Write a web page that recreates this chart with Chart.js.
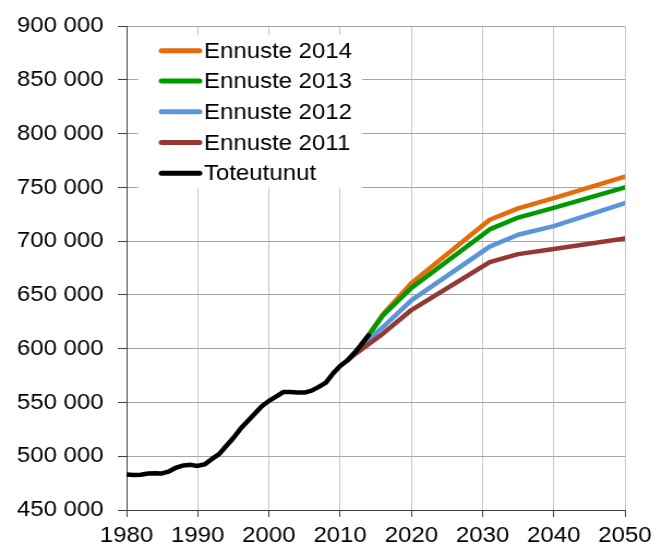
<!DOCTYPE html>
<html>
<head>
<meta charset="utf-8">
<script src="https://cdn.jsdelivr.net/npm/chart.js@4"></script>
<style>
  html, body { margin: 0; padding: 0; background: #ffffff; }
</style>
</head>
<body>
<canvas id="c" width="607" height="549" style="display:block;width:662px;height:549px"></canvas>
<script>
// ---- data ----
const actualYears = [1980,1981,1982,1983,1984,1985,1986,1987,1988,1989,1990,1991,1992,1993,1994,1995,1996,1997,1998,1999,2000,2001,2002,2003,2004,2005,2006,2007,2008,2009,2010,2011,2012,2013,2014];
const actualValues = [483000,482500,482800,484000,484200,484000,486000,489500,491500,492000,491000,492500,497500,502000,509500,517000,525500,532500,539500,546500,551500,555500,559700,559800,559400,559200,561000,564500,568500,577000,584000,589000,596000,604000,612500];

const years2014 = [2014,2016,2020,2031,2035,2040,2050];
const values2014 = [612500,632000,661000,720000,730500,740000,760000];

const years2013 = [2013,2014,2016,2020,2031,2035,2040,2050];
const values2013 = [604000,612500,631000,656500,711000,722000,731000,750000];

const years2012 = [2012,2013,2016,2020,2031,2035,2040,2050];
const values2012 = [596000,602500,620000,645000,695000,706000,714000,735500];

const years2011 = [2011,2012,2016,2020,2031,2035,2040,2050];
const values2011 = [589000,594500,614000,636000,680500,688000,692800,702500];

const seriesNames = ["Ennuste 2014","Ennuste 2013","Ennuste 2012","Ennuste 2011","Toteutunut"];
const seriesColors = ["#E46C0A","#009A00","#5B95D9","#953735","#000000"];

const xTicks = [1980,1990,2000,2010,2020,2030,2040,2050];
const yMin = 450000, yMax = 900000, yStep = 50000;

// ---- helpers ----
function pts(xs, ys) { return xs.map((x, i) => ({ x: x, y: ys[i] })); }
function fmt(v) { return String(v).replace(/\B(?=(\d{3})+(?!\d))/g, ' '); }

const FONT = { family: '"Liberation Sans", Arial, sans-serif', size: 22 };

function ds(idx, data, order) {
  return {
    label: seriesNames[idx],
    data: data,
    borderColor: seriesColors[idx],
    backgroundColor: seriesColors[idx],
    borderWidth: 4.5,
    pointRadius: 0,
    pointHoverRadius: 0,
    tension: 0,
    fill: false,
    borderCapStyle: 'round',
    borderJoinStyle: 'round',
    order: order
  };
}

const legendPlugin = {
  id: 'inlineLegend',
  afterDatasetsDraw(chart) {
    const ctx = chart.ctx;
    ctx.save();
    ctx.fillStyle = '#ffffff';
    ctx.fillRect(126.5, 35, 205.5, 153);
    const rowsY = [50.7, 81, 111.7, 142.5, 173.2];
    ctx.font = '22px ' + FONT.family;
    ctx.textBaseline = 'middle';
    ctx.textAlign = 'left';
    chart.data.datasets.forEach((d) => {
      const i = seriesNames.indexOf(d.label);
      const y = rowsY[i];
      ctx.strokeStyle = d.borderColor;
      ctx.lineWidth = 5;
      ctx.lineCap = 'round';
      ctx.beginPath();
      ctx.moveTo(148, y);
      ctx.lineTo(183, y);
      ctx.stroke();
      ctx.fillStyle = '#000000';
      ctx.fillText(d.label, 187, y + 1);
    });
    ctx.restore();
  }
};

new Chart(document.getElementById('c'), {
  type: 'line',
  data: {
    datasets: [
      ds(0, pts(years2014, values2014), 4),
      ds(1, pts(years2013, values2013), 3),
      ds(2, pts(years2012, values2012), 2),
      ds(3, pts(years2011, values2011), 1),
      ds(4, pts(actualYears, actualValues), 0)
    ]
  },
  options: {
    responsive: false,
    maintainAspectRatio: false,
    animation: false,
    events: [],
    layout: { padding: { top: 24, right: 34, left: 0, bottom: 0 } },
    plugins: { legend: { display: false }, tooltip: { enabled: false }, title: { display: false } },
    scales: {
      x: {
        type: 'linear',
        min: 1980, max: 2050,
        afterBuildTicks: (s) => { s.ticks = xTicks.map(v => ({ value: v })); },
        afterFit: (s) => { s.height = 39; },
        ticks: {
          callback: (v) => String(v),
          color: '#000000',
          font: FONT,
          padding: 6,
          maxRotation: 0,
          autoSkip: false
        },
        grid: { color: '#c8c8c8', lineWidth: 1, tickColor: '#404040', tickLength: 7, drawTicks: true },
        border: { color: '#404040', width: 1 }
      },
      y: {
        type: 'linear',
        min: yMin, max: yMax,
        afterFit: (s) => { s.width = 116; },
        ticks: {
          stepSize: yStep,
          callback: (v) => fmt(v),
          color: '#000000',
          font: FONT,
          padding: 13
        },
        grid: { color: '#a6a6a6', lineWidth: 1, tickColor: '#404040', tickLength: 8, drawTicks: true },
        border: { color: '#404040', width: 1 }
      }
    }
  },
  plugins: [legendPlugin]
});
</script>
</body>
</html>
